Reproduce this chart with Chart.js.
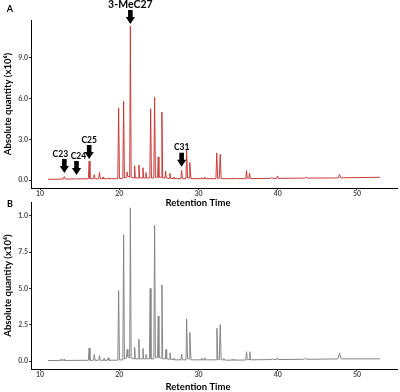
<!DOCTYPE html>
<html lang="en">
<head>
<meta charset="UTF-8">
<title>Cromatograma</title>
<script src="https://cdn.jsdelivr.net/npm/chart.js"></script>
<style>
    body { margin: 0; background: #fff; }
    .painel { position: absolute; left: 0; }
</style>
</head>
<body>
<canvas id="graficoA" class="painel" width="400" height="210" style="top:0px"></canvas>
<canvas id="graficoB" class="painel" width="400" height="202" style="top:190px"></canvas>
<script>
    // ---- dados (tempo de retencao em min, quantidade x10^6) ----
    const temposA = [11.0, 12.9, 13.07, 13.2, 14.5, 14.6, 14.7, 16.1, 16.2, 16.3, 16.75, 16.85, 16.95, 17.4, 17.5, 17.6,
        17.88, 17.95, 18.03, 18.5, 18.6, 18.7, 19.82, 19.92, 20.02, 20.45, 20.55, 20.65, 20.9, 20.97, 21.05, 21.32, 21.4, 21.5,
        21.86, 21.94, 22.02, 22.4, 22.48, 22.56, 22.91, 22.99, 23.07, 23.3, 23.37, 23.45, 23.86, 23.96, 24.06, 24.36, 24.46, 24.56,
        24.84, 24.92, 25.0, 25.28, 25.38, 25.48, 25.77, 25.85, 25.93, 26.32, 26.4, 26.48, 26.82, 26.9, 26.98, 27.78, 27.87, 27.96,
        28.42, 28.5, 28.62, 28.8, 28.9, 29.05, 30.32, 30.4, 30.48, 30.72, 30.8, 30.88, 32.2, 32.3, 32.42, 32.62, 32.74, 32.86,
        34.2, 34.25, 34.3, 34.65, 34.7, 34.75, 35.96, 36.06, 36.16, 36.36, 36.44, 36.54, 39.1, 39.26, 39.4, 39.88, 39.97, 40.08,
        43.4, 43.6, 43.8, 47.65, 47.8, 47.95, 52.9];
    const valoresA = [0.05, 0.07, 0.25, 0.07, 0.08, 0.12, 0.08, 0.09, 1.4, 0.09, 0.09, 0.4, 0.09, 0.09, 0.55, 0.09,
        0.09, 0.22, 0.09, 0.09, 0.15, 0.09, 0.1, 5.3, 0.12, 0.12, 5.8, 0.15, 0.2, 0.6, 0.3, 0.2, 11.35, 0.2,
        0.15, 1.05, 0.15, 0.15, 1.1, 0.15, 0.15, 0.9, 0.15, 0.15, 0.55, 0.15, 0.15, 5.25, 0.15, 0.15, 6.1, 0.2,
        0.2, 1.7, 0.2, 0.2, 5.0, 0.15, 0.15, 0.65, 0.15, 0.12, 0.5, 0.12, 0.1, 0.22, 0.1, 0.1, 0.7, 0.1,
        0.1, 2.2, 0.15, 0.15, 1.3, 0.1, 0.1, 0.18, 0.1, 0.1, 0.22, 0.1, 0.1, 2.0, 0.12, 0.12, 1.9, 0.1,
        0.1, 0.15, 0.1, 0.1, 0.15, 0.1, 0.1, 0.7, 0.12, 0.12, 0.5, 0.1, 0.12, 0.18, 0.12, 0.12, 0.3, 0.12,
        0.14, 0.2, 0.14, 0.15, 0.4, 0.16, 0.2];

    const temposB = [11.0, 12.55, 12.65, 12.75, 12.95, 13.03, 13.11, 16.1, 16.2, 16.3, 16.75, 16.85, 16.95, 17.4, 17.5, 17.6,
        17.98, 18.07, 18.15, 18.5, 18.6, 18.7, 19.82, 19.92, 20.02, 20.45, 20.55, 20.65, 20.92, 21.0, 21.08, 21.32, 21.4, 21.5,
        21.86, 21.94, 22.02, 22.4, 22.48, 22.56, 22.91, 22.99, 23.07, 23.3, 23.37, 23.45, 23.8, 23.9, 24.0, 24.36, 24.46, 24.56,
        24.84, 24.92, 25.0, 25.28, 25.38, 25.48, 25.82, 25.9, 25.98, 26.32, 26.4, 26.48, 26.82, 26.9, 26.98, 27.78, 27.87, 27.96,
        28.42, 28.5, 28.62, 28.8, 28.9, 29.05, 30.32, 30.4, 30.48, 30.72, 30.8, 30.88, 32.22, 32.32, 32.44, 32.62, 32.74, 32.86,
        33.1, 33.2, 33.3, 34.2, 34.25, 34.3, 34.55, 34.6, 34.65, 35.96, 36.06, 36.16, 36.38, 36.48, 36.58, 39.15, 39.3, 39.45,
        39.88, 39.97, 40.08, 43.3, 43.5, 43.7, 47.6, 47.8, 48.0, 52.9];
    const valoresB = [0.03, 0.04, 0.12, 0.04, 0.04, 0.12, 0.04, 0.05, 0.9, 0.05, 0.05, 0.45, 0.05, 0.05, 0.37, 0.05,
        0.05, 0.2, 0.05, 0.05, 0.22, 0.05, 0.06, 4.85, 0.08, 0.08, 8.7, 0.15, 0.2, 0.8, 0.3, 0.2, 10.55, 0.2,
        0.15, 0.95, 0.15, 0.15, 1.5, 0.15, 0.15, 0.87, 0.15, 0.15, 0.45, 0.15, 0.15, 5.0, 0.15, 0.15, 9.35, 0.25,
        0.25, 3.1, 0.25, 0.2, 5.25, 0.15, 0.15, 0.8, 0.15, 0.12, 0.57, 0.12, 0.1, 0.2, 0.08, 0.08, 0.48, 0.08,
        0.08, 2.9, 0.15, 0.15, 1.97, 0.08, 0.08, 0.2, 0.08, 0.08, 0.22, 0.08, 0.08, 2.25, 0.1, 0.1, 2.5, 0.08,
        0.08, 0.17, 0.06, 0.06, 0.12, 0.06, 0.06, 0.12, 0.06, 0.07, 0.64, 0.1, 0.1, 0.64, 0.08, 0.1, 0.15, 0.1,
        0.1, 0.22, 0.1, 0.12, 0.18, 0.12, 0.14, 0.55, 0.15, 0.15];

    // marcadores (setas) do painel A
    const rotulosSeta = ['C23', 'C24', 'C25', '3-MeC27', 'C31'];
    const temposSeta = [13.07, 14.6, 16.2, 21.4, 27.87];
    const alturasSeta = [0.52, 0.37, 1.55, 11.5, 0.98];

    // eixos
    const ticksX = [10, 20, 30, 40, 50];
    const ticksYA = [0, 3, 6, 9];
    const rotulosYA = ['0.0', '3.0', '6.0', '9.0'];
    const ticksYB = [0, 2.5, 5, 7.5, 10];
    const rotulosYB = ['0.0', '2.5', '5.0', '7.5', '1.0'];

    const FONTE = 'Lato';
    // deslocamento horizontal dos rotulos das setas (px), para nao se sobreporem
    const ajusteRotulo = { 'C23': -4, 'C24': 2 };

    function desenharSeta(ctx, x, yPonta) {
        ctx.beginPath();
        ctx.moveTo(x - 2.3, yPonta - 14);
        ctx.lineTo(x + 2.3, yPonta - 14);
        ctx.lineTo(x + 2.3, yPonta - 7);
        ctx.lineTo(x + 4.6, yPonta - 7);
        ctx.lineTo(x, yPonta);
        ctx.lineTo(x - 4.6, yPonta - 7);
        ctx.lineTo(x - 2.3, yPonta - 7);
        ctx.closePath();
        ctx.fill();
    }

    function criarPlugin(letra, letraY, tituloY, comSetas) {
        return {
            id: 'extras' + letra,
            afterDraw(chart) {
                const ctx = chart.ctx;
                ctx.save();
                ctx.fillStyle = '#000';
                ctx.textAlign = 'center';
                ctx.textBaseline = 'middle';
                ctx.font = 'bold 9px ' + FONTE;
                ctx.fillText(letra, 10, letraY);
                ctx.font = 'bold 9.5px ' + FONTE;
                ctx.fillText('Retention Time', 198, tituloY);
                if (comSetas) {
                    const escX = chart.scales.x;
                    const escY = chart.scales.y;
                    for (let i = 0; i < rotulosSeta.length; i++) {
                        const x = escX.getPixelForValue(temposSeta[i]);
                        const y = escY.getPixelForValue(alturasSeta[i]);
                        desenharSeta(ctx, x, y);
                        ctx.font = (rotulosSeta[i].length > 3 ? 'bold 10.5px ' : 'bold 8.5px ') + FONTE;
                        ctx.fillText(rotulosSeta[i], x + (ajusteRotulo[rotulosSeta[i]] || 0), y - 19);
                    }
                }
                ctx.restore();
            }
        };
    }

    function criarConfig(tempos, valores, cor, yMin, yMax, ticksY, rotulosY, topo, alturaX, plugin) {
        const pontos = [];
        for (let i = 0; i < tempos.length; i++) {
            pontos.push({ x: tempos[i], y: valores[i] });
        }
        return {
            type: 'line',
            data: {
                datasets: [{
                    data: pontos,
                    borderColor: cor,
                    borderWidth: 1,
                    pointRadius: 0,
                    tension: 0,
                    fill: false
                }]
            },
            options: {
                responsive: false,
                animation: false,
                layout: { padding: { top: topo, right: 3, left: 0, bottom: 0 } },
                plugins: { legend: { display: false }, tooltip: { enabled: false } },
                scales: {
                    x: {
                        type: 'linear',
                        min: 8.86,
                        max: 55.05,
                        afterBuildTicks: function (escala) {
                            escala.ticks = ticksX.map(v => ({ value: v }));
                        },
                        afterFit: function (escala) { escala.height = alturaX; },
                        ticks: {
                            padding: 0,
                            maxRotation: 0,
                            color: '#4d4d4d',
                            font: { family: FONTE, size: 7, weight: 'bold' }
                        },
                        grid: { display: true, drawOnChartArea: false, tickLength: 2, color: '#333' },
                        border: { display: true, color: '#000', width: 1 }
                    },
                    y: {
                        min: yMin,
                        max: yMax,
                        afterBuildTicks: function (escala) {
                            escala.ticks = ticksY.map(v => ({ value: v }));
                        },
                        afterFit: function (escala) { escala.width = 31; },
                        ticks: {
                            padding: 1,
                            color: '#4d4d4d',
                            font: { family: FONTE, size: 7, weight: 'bold' },
                            callback: function (valor, indice) { return rotulosY[indice]; }
                        },
                        grid: { display: true, drawOnChartArea: false, tickLength: 2, color: '#333' },
                        border: { display: true, color: '#000', width: 1 },
                        title: {
                            display: true,
                            text: 'Absolute quantity (x10⁶)',
                            color: '#000',
                            padding: { top: 2, bottom: 0 },
                            font: { family: FONTE, size: 9.5, weight: 'bold' }
                        }
                    }
                }
            },
            plugins: [plugin]
        };
    }

    new Chart(document.getElementById('graficoA'),
        criarConfig(temposA, valoresA, '#cc3a3a', -0.59, 11.8, ticksYA, rotulosYA, 20, 22,
            criarPlugin('A', 9, 203, true)));

    new Chart(document.getElementById('graficoB'),
        criarConfig(temposB, valoresB, '#858585', -0.55, 10.95, ticksYB, rotulosYB, 12, 23,
            criarPlugin('B', 14.5, 197, false)));
</script>
</body>
</html>
